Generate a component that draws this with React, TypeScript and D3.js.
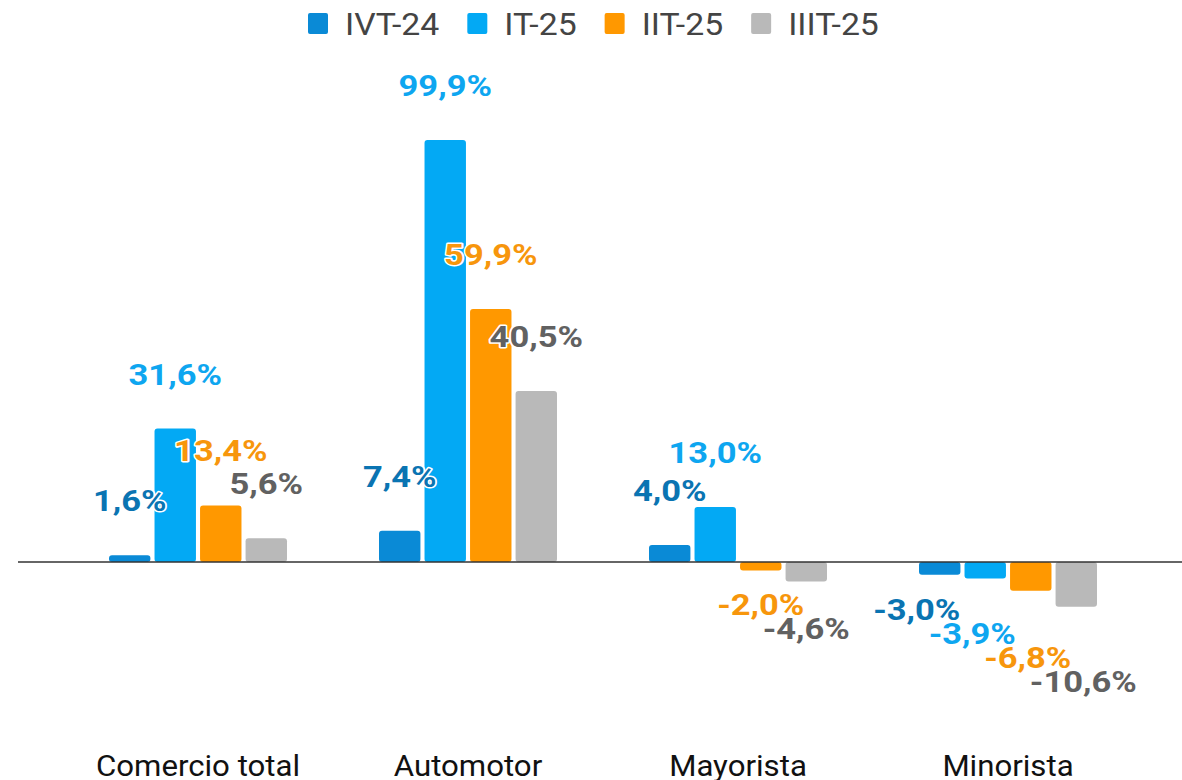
import React, { useEffect, useRef } from 'react';
import * as d3 from 'd3';

const categories = ['Comercio total', 'Automotor', 'Mayorista', 'Minorista'];
const seriesNames = ['IVT-24', 'IT-25', 'IIT-25', 'IIIT-25'];
const ivt24 = [1.6, 7.4, 4.0, -3.0];
const it25 = [31.6, 99.9, 13.0, -3.9];
const iit25 = [13.4, 59.9, -2.0, -6.8];
const iiit25 = [5.6, 40.5, -4.6, -10.6];

const barColors = ['#0a8ad6', '#03a9f4', '#ff9800', '#b9b9b9'];
const labelColors = ['#0a74b2', '#0ea6f0', '#f7960c', '#616161'];

const fmt = (v: number) => v.toFixed(1).replace('.', ',') + '%';

export default function App() {
  const ref = useRef<SVGSVGElement>(null);

  useEffect(() => {
    if (!ref.current) return;
    const width = 1182;
    const height = 780;
    const svg = d3.select(ref.current);
    svg.selectAll('*').remove();

    const series = [ivt24, it25, iit25, iiit25];

    const x0 = d3.scaleBand<string>().domain(categories).range([63, 1143]).padding(0);
    const x1 = d3.scaleBand<string>().domain(seriesNames)
      .range([x0.bandwidth() / 2 - 89, x0.bandwidth() / 2 + 89])
      .paddingInner(0.09).paddingOuter(0);
    const y = d3.scaleLinear().domain([0, 100]).range([562, 139.6]);

    // legend
    const legend = svg.append('g');
    const legStretch = 1.09;
    let lx = 308;
    seriesNames.forEach((name, i) => {
      legend.append('rect')
        .attr('x', lx).attr('y', 13).attr('width', 20).attr('height', 21)
        .attr('rx', 2).attr('fill', barColors[i]);
      const t = legend.append('text')
        .attr('transform', `translate(${lx + 37},35) scale(${legStretch},1)`)
        .attr('font-family', 'Roboto, sans-serif')
        .attr('font-size', 31)
        .attr('fill', '#444')
        .text(name);
      const w = (t.node() as SVGTextElement).getComputedTextLength() * legStretch;
      lx += 37 + w + 28;
    });

    // bars
    const g = svg.append('g');
    categories.forEach((cat, ci) => {
      const gx = x0(cat)!;
      series.forEach((vals, si) => {
        const v = vals[ci];
        const bx = gx + x1(seriesNames[si])!;
        g.append('rect')
          .attr('x', bx)
          .attr('y', Math.min(y(v), y(0)))
          .attr('width', x1.bandwidth())
          .attr('height', Math.abs(y(v) - y(0)))
          .attr('rx', 3)
          .attr('fill', barColors[si]);
      });
    });

    // baseline
    svg.append('line')
      .attr('x1', 18).attr('x2', width)
      .attr('y1', y(0)).attr('y2', y(0))
      .attr('stroke', '#333').attr('stroke-width', 1.5);

    // value labels (negative ones pushed down when they collide)
    const lg = svg.append('g');
    const labStretch = 1.19;
    categories.forEach((cat, ci) => {
      const gx = x0(cat)!;
      let prevNeg = -Infinity;
      let negCount = 0;
      series.forEach((vals, si) => {
        const v = vals[ci];
        let cx = gx + x1(seriesNames[si])! + x1.bandwidth() / 2;
        let ty: number;
        if (v >= 0) {
          ty = y(v) - 44;
        } else {
          ty = y(v) + 45;
          if (prevNeg > -Infinity) ty = Math.max(ty, prevNeg + 24);
          prevNeg = ty;
          negCount++;
          // when the whole group is negative the labels fan out leftwards
          if (vals.length && series.every(s => s[ci] < 0)) cx -= 23 - (negCount - 1) * 10;
        }
        lg.append('text')
          .attr('transform', `translate(${cx},${ty}) scale(${labStretch},1)`)
          .attr('text-anchor', 'middle')
          .attr('font-family', 'Roboto, sans-serif')
          .attr('font-weight', 'bold')
          .attr('font-size', 29)
          .attr('fill', labelColors[si])
          .attr('stroke', '#fff')
          .attr('stroke-width', 3)
          .attr('stroke-linejoin', 'round')
          .attr('paint-order', 'stroke')
          .text(fmt(v));
      });
    });

    // category labels
    svg.append('g').selectAll('text')
      .data(categories)
      .enter()
      .append('text')
      .attr('transform', d => `translate(${x0(d)! + x0.bandwidth() / 2},776) scale(1.04,1)`)
      .attr('text-anchor', 'middle')
      .attr('font-family', 'Roboto, sans-serif')
      .attr('font-size', 30)
      .attr('fill', '#111')
      .text(d => d);

    svg.attr('width', width).attr('height', height);
  }, []);

  return (
    <svg
      ref={ref}
      width={1182}
      height={780}
      style={{ position: 'absolute', left: 0, top: 0, background: '#fff' }}
    />
  );
}
